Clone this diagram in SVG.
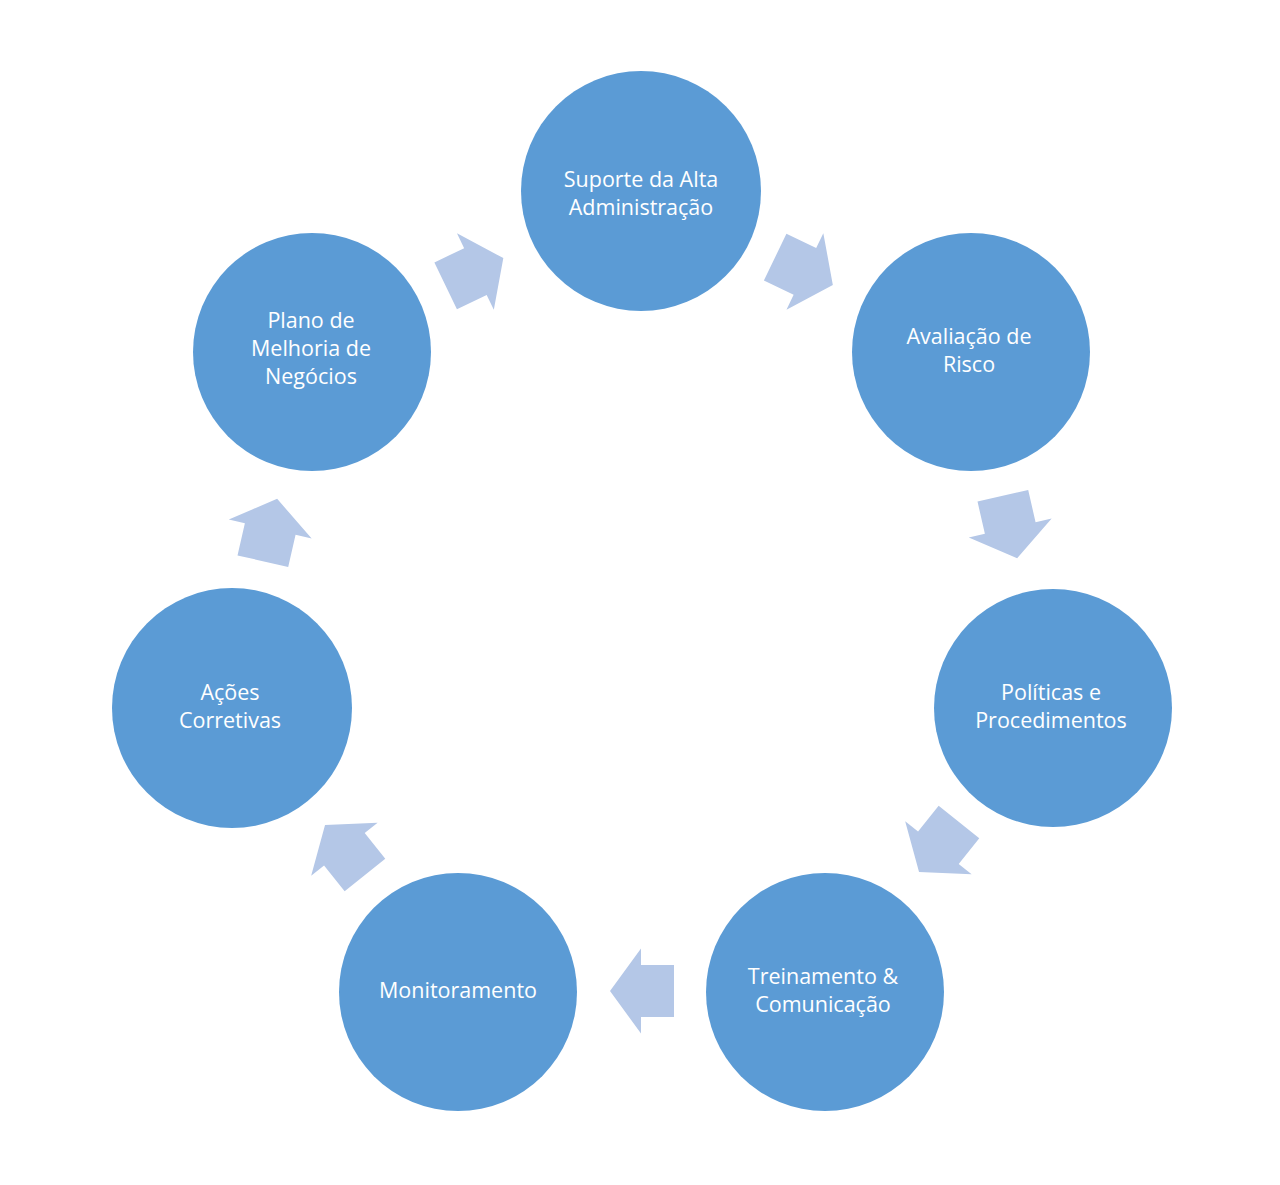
<svg xmlns="http://www.w3.org/2000/svg" width="1280" height="1185" viewBox="0 0 1280 1185">
<style>
.node{fill:#5B9BD5;}
.lbl{font-family:"Open Sans","Noto Sans","Liberation Sans",sans-serif;font-size:21.5px;fill:#FFFFFF;text-anchor:middle;}
.arr{fill:#B4C7E7;}
</style>
<defs>
<polygon id="arrow" points="-32,-26 1,-26 1,-42.5 32,0 1,42.5 1,26 -32,26"/>
</defs>
<rect width="1280" height="1185" fill="#FFFFFF"/>
<g id="connectors" class="arr">
<use href="#arrow" transform="translate(804,271) rotate(25.7)"/>
<use href="#arrow" transform="translate(1010,527) rotate(77.1)"/>
<use href="#arrow" transform="translate(939,847) rotate(128.6)"/>
<use href="#arrow" transform="translate(642,991) rotate(180)"/>
<use href="#arrow" transform="translate(345,850) rotate(231.4)"/>
<use href="#arrow" transform="translate(270,530) rotate(282.9)"/>
<use href="#arrow" transform="translate(474.5,272) rotate(334.3)"/>
</g>
<g id="node1"><circle class="node" cx="641" cy="191" r="120"/><text class="lbl" x="641" y="187">Suporte da Alta</text><text class="lbl" x="641" y="215">Administração</text></g>
<g id="node2"><circle class="node" cx="971" cy="352" r="119"/><text class="lbl" x="969" y="344">Avaliação de</text><text class="lbl" x="969" y="372">Risco</text></g>
<g id="node3"><circle class="node" cx="1053" cy="708" r="119"/><text class="lbl" x="1051" y="700">Políticas e</text><text class="lbl" x="1051" y="728">Procedimentos</text></g>
<g id="node4"><circle class="node" cx="825" cy="992" r="119"/><text class="lbl" x="823" y="984">Treinamento &amp;</text><text class="lbl" x="823" y="1012">Comunicação</text></g>
<g id="node5"><circle class="node" cx="458" cy="992" r="119"/><text class="lbl" x="458" y="998">Monitoramento</text></g>
<g id="node6"><circle class="node" cx="232" cy="708" r="120"/><text class="lbl" x="230" y="700">Ações</text><text class="lbl" x="230" y="728">Corretivas</text></g>
<g id="node7"><circle class="node" cx="312" cy="352" r="119"/><text class="lbl" x="311" y="328">Plano de</text><text class="lbl" x="311" y="356">Melhoria de</text><text class="lbl" x="311" y="384">Negócios</text></g>
</svg>
